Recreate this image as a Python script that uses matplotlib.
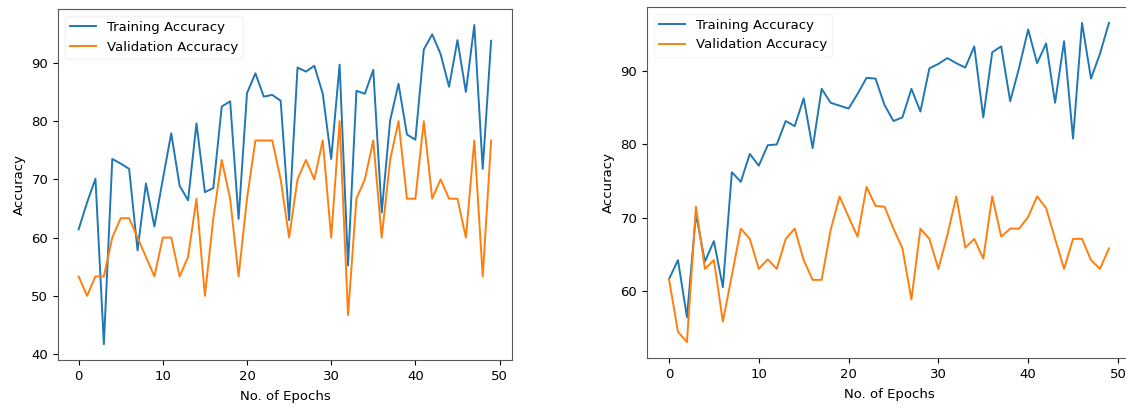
import matplotlib
matplotlib.use("Agg")
import matplotlib.pyplot as plt

epochs = list(range(50))

# first run
train_acc_1 = [61.4, 66.0, 70.1, 41.7, 73.5, 72.7, 71.8, 57.8, 69.3, 61.9,
               70.0, 77.9, 68.9, 66.4, 79.6, 67.8, 68.5, 82.5, 83.4, 63.2,
               84.8, 88.2, 84.2, 84.5, 83.5, 63.0, 89.2, 88.5, 89.5, 84.7,
               73.5, 89.7, 55.2, 85.2, 84.7, 88.8, 64.3, 80.1, 86.4, 77.7,
               76.8, 92.3, 94.9, 91.5, 85.9, 93.9, 85.0, 96.5, 71.8, 93.8]
val_acc_1 = [53.33, 50.0, 53.33, 53.33, 60.0, 63.33, 63.33, 60.0, 56.67, 53.33,
             60.0, 60.0, 53.33, 56.67, 66.67, 50.0, 63.33, 73.33, 66.67, 53.33,
             66.67, 76.67, 76.67, 76.67, 70.0, 60.0, 70.0, 73.33, 70.0, 76.67,
             60.0, 80.0, 46.67, 66.67, 70.0, 76.67, 60.0, 73.33, 80.0, 66.67,
             66.67, 80.0, 66.67, 70.0, 66.67, 66.67, 60.0, 76.67, 53.33, 76.67]

# second run
train_acc_2 = [61.6, 64.2, 56.4, 70.5, 64.0, 66.8, 60.5, 76.2, 74.9, 78.7,
               77.1, 79.9, 80.0, 83.2, 82.5, 86.3, 79.5, 87.6, 85.7, 85.3,
               84.9, 86.9, 89.1, 89.0, 85.4, 83.2, 83.7, 87.6, 84.5, 90.4,
               91.0, 91.8, 91.1, 90.5, 93.4, 83.7, 92.6, 93.4, 85.9, 90.5,
               95.7, 91.1, 93.8, 85.7, 94.1, 80.8, 96.6, 89.0, 92.4, 96.6]
val_acc_2 = [61.6, 54.4, 53.0, 71.5, 63.0, 64.2, 55.8, 62.1, 68.5, 67.1,
             63.0, 64.3, 63.0, 67.1, 68.5, 64.2, 61.5, 61.5, 68.3, 72.9,
             70.1, 67.4, 74.2, 71.6, 71.5, 68.5, 65.8, 58.8, 68.5, 67.1,
             63.0, 67.6, 72.9, 65.9, 67.1, 64.4, 72.9, 67.4, 68.5, 68.5,
             70.1, 72.9, 71.3, 67.1, 63.0, 67.1, 67.1, 64.2, 63.0, 65.8]

plt.rcParams['font.size'] = 9.5

fig = plt.figure(figsize=(11.26, 4.12), dpi=100)
ax1 = fig.add_axes([0.0515, 0.126, 0.403, 0.852])
ax2 = fig.add_axes([0.5746, 0.131, 0.4298, 0.852])

for ax, tr, va in [(ax1, train_acc_1, val_acc_1), (ax2, train_acc_2, val_acc_2)]:
    ax.plot(epochs, tr, color='#1f77b4', lw=1.4, label='Training Accuracy')
    ax.plot(epochs, va, color='#ff7f0e', lw=1.4, label='Validation Accuracy')
    ax.set_xlabel('No. of Epochs', labelpad=5)
    ax.set_ylabel('Accuracy')
    for sp in ax.spines.values():
        sp.set_color('0.35')
    leg = ax.legend(loc='upper left')
    leg.get_frame().set_edgecolor('0.95')

fig.savefig('out.png', dpi=100)
